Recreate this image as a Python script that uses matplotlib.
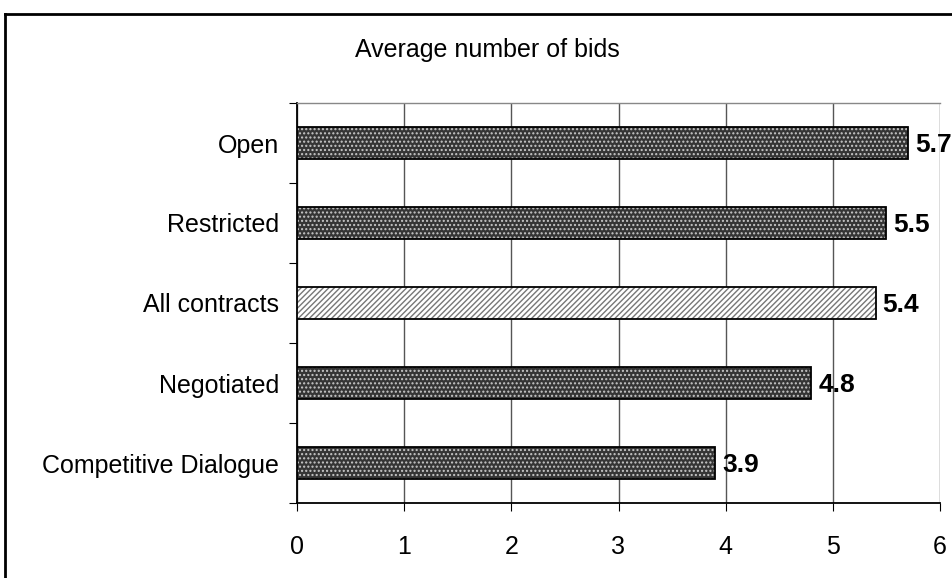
import matplotlib
matplotlib.use('Agg')
import matplotlib.pyplot as plt
from matplotlib.lines import Line2D

plt.rcParams['font.family'] = ['Liberation Sans', 'DejaVu Sans']

categories = ['Competitive Dialogue', 'Negotiated', 'All contracts', 'Restricted', 'Open']
values = [3.9, 4.8, 5.4, 5.5, 5.7]
highlight = 'All contracts'

fig = plt.figure(figsize=(9.53, 5.78), dpi=100)
ax = fig.add_axes([297 / 953, 75 / 578, 643 / 953, 400 / 578])

pos = list(range(len(categories)))
h = 0.41
for y, cat, v in zip(pos, categories, values):
    if cat == highlight:
        ax.barh(y, v, height=h, color='white', hatch='//////', edgecolor='#777777', linewidth=0, zorder=3)
    else:
        ax.barh(y, v, height=h, color='#353535', hatch='....', edgecolor='#c8c8c8', linewidth=0, zorder=3)
    ax.barh(y, v, height=h, fill=False, edgecolor='black', linewidth=1.3, zorder=4)
    ax.text(v + 0.065, y - 0.03, f'{v:.1f}', va='center', ha='left', fontsize=19, fontweight='bold', zorder=5)

ax.set_xlim(0, 6)
ax.set_ylim(-0.5, len(categories) - 0.5)
ax.set_xticks(range(7))
ax.tick_params(axis='x', labelsize=18, length=6, direction='out', pad=17)
ax.set_yticks([p - 0.5 for p in range(len(categories) + 1)])
ax.set_yticklabels([])
ax.set_yticks(pos, minor=True)
ax.set_yticklabels(categories, minor=True, fontsize=18)
ax.tick_params(axis='y', which='major', length=6, direction='out')
ax.tick_params(axis='y', which='minor', length=0, pad=13)
ax.grid(axis='x', color='#555555', linewidth=1, zorder=0)
ax.spines['top'].set_color('#888888')
ax.spines['top'].set_linewidth(1)
ax.spines['right'].set_visible(False)
ax.spines['left'].set_linewidth(1.3)
ax.spines['bottom'].set_linewidth(1.3)

fig.text(0.511, 0.913, 'Average number of bids', ha='center', va='center', fontsize=18)

# outer chart frame (cropped on right and bottom)
fig.add_artist(Line2D([5 / 953, 5 / 953], [0, 1 - 14 / 578], color='black', linewidth=2, transform=fig.transFigure))
fig.add_artist(Line2D([5 / 953, 1], [1 - 14 / 578, 1 - 14 / 578], color='black', linewidth=2, transform=fig.transFigure))

fig.savefig('out.png', dpi=100)
